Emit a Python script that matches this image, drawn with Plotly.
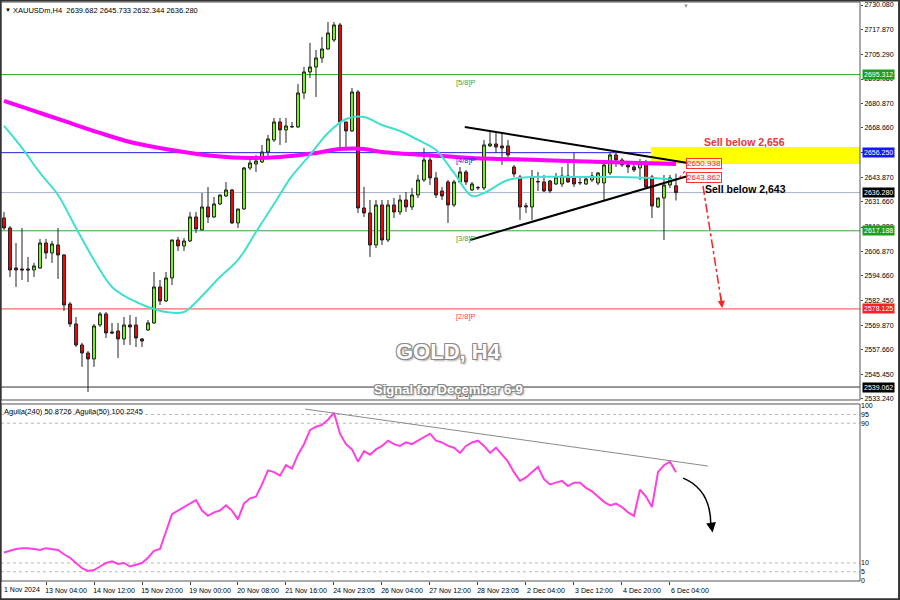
import plotly.graph_objects as go

# ---------------- data (XAUUSDm, H4) ----------------
open_ = [2623.6, 2618.6, 2598.6, 2598.1, 2598.1, 2597.6, 2598.6, 2611.1, 2606.1, 2610.1,
         2605.1, 2580.6, 2570.6, 2560.1, 2556.1, 2553.1, 2570.1, 2575.6, 2566.6, 2567.1,
         2563.1, 2570.1, 2570.1, 2563.1, 2567.6, 2571.1, 2589.1, 2582.1, 2593.6, 2612.6,
         2609.6, 2612.1, 2624.1, 2617.6, 2629.1, 2624.1, 2630.6, 2634.6, 2637.6, 2621.1,
         2628.1, 2648.6, 2650.6, 2651.6, 2656.6, 2662.6, 2671.6, 2667.6, 2669.1, 2669.1,
         2686.1, 2696.6, 2699.1, 2703.6, 2708.1, 2712.6, 2720.1, 2671.6, 2667.1, 2686.6,
         2628.6, 2626.1, 2610.1, 2630.1, 2612.6, 2630.1, 2626.6, 2632.6, 2629.1, 2635.1,
         2642.6, 2652.6, 2643.6, 2637.1, 2641.6, 2630.1, 2641.6, 2646.6, 2637.6, 2638.6,
         2638.6, 2659.6, 2660.6, 2659.6, 2659.6, 2649.1, 2644.1, 2629.1, 2629.1, 2641.6,
         2641.6, 2642.1, 2640.6, 2640.6, 2644.6, 2643.6, 2641.1, 2640.6, 2642.6, 2641.1,
         2641.1, 2646.1, 2655.1, 2652.6, 2650.1, 2649.1, 2648.6, 2651.6, 2644.1, 2629.1,
         2633.6, 2640.1, 2639.682]
high = [2626.6, 2619.6, 2611.1, 2618.6, 2604.1, 2601.1, 2613.1, 2613.1, 2612.1, 2618.6,
        2605.6, 2581.6, 2574.1, 2561.1, 2557.1, 2570.6, 2576.6, 2576.6, 2571.1, 2571.1,
        2574.1, 2575.1, 2574.1, 2563.6, 2572.6, 2596.6, 2592.6, 2596.6, 2612.6, 2614.1,
        2613.6, 2626.6, 2626.6, 2636.1, 2639.1, 2634.1, 2635.1, 2641.6, 2638.1, 2628.1,
        2649.1, 2653.6, 2655.1, 2660.1, 2665.1, 2673.6, 2673.6, 2673.6, 2671.6, 2690.6,
        2699.1, 2711.1, 2707.6, 2714.1, 2721.6, 2721.6, 2721.1, 2671.6, 2688.6, 2687.6,
        2639.1, 2632.6, 2632.6, 2632.6, 2632.6, 2633.6, 2635.1, 2636.6, 2638.6, 2645.1,
        2658.6, 2655.1, 2646.6, 2639.1, 2642.6, 2642.6, 2649.1, 2647.6, 2641.6, 2639.6,
        2662.6, 2666.6, 2666.1, 2666.1, 2662.6, 2650.1, 2645.1, 2631.1, 2647.6, 2646.6,
        2645.1, 2642.6, 2646.1, 2649.1, 2651.1, 2656.1, 2644.1, 2644.6, 2646.6, 2646.6,
        2651.6, 2656.1, 2656.1, 2653.6, 2651.6, 2651.6, 2653.1, 2652.6, 2645.1, 2633.6,
        2645.1, 2645.1, 2645.733]
low = [2617.6, 2594.1, 2589.1, 2592.6, 2591.6, 2594.1, 2598.1, 2603.1, 2601.1, 2593.1,
       2577.1, 2569.1, 2559.1, 2549.1, 2536.6, 2549.1, 2569.1, 2563.6, 2565.6, 2553.6,
       2560.1, 2560.1, 2559.1, 2559.1, 2567.1, 2570.6, 2580.1, 2581.6, 2590.1, 2607.1,
       2607.1, 2611.6, 2616.1, 2617.6, 2621.1, 2623.6, 2630.1, 2634.1, 2620.6, 2618.6,
       2627.6, 2647.6, 2646.6, 2651.1, 2654.1, 2661.6, 2660.1, 2661.1, 2668.6, 2668.6,
       2683.1, 2693.6, 2684.1, 2701.1, 2707.6, 2711.6, 2658.6, 2658.6, 2666.6, 2626.1,
       2624.1, 2604.1, 2608.6, 2610.1, 2611.6, 2623.6, 2625.1, 2626.6, 2627.6, 2633.6,
       2641.6, 2640.1, 2633.6, 2632.6, 2621.1, 2629.1, 2641.1, 2640.1, 2637.1, 2637.6,
       2637.6, 2659.1, 2656.1, 2650.1, 2654.1, 2644.1, 2622.6, 2626.1, 2622.6, 2637.1,
       2636.6, 2636.1, 2640.1, 2639.1, 2641.1, 2639.1, 2640.1, 2640.1, 2641.6, 2640.1,
       2632.6, 2645.1, 2649.1, 2649.1, 2646.1, 2646.6, 2642.6, 2638.6, 2623.6, 2628.6,
       2612.6, 2638.6, 2632.344]
close = [2618.6, 2597.6, 2597.6, 2597.6, 2597.6, 2599.6, 2611.1, 2606.1, 2610.6, 2605.1,
         2580.1, 2570.6, 2560.1, 2556.1, 2553.1, 2569.6, 2575.6, 2566.1, 2566.1, 2563.1,
         2570.1, 2569.1, 2563.6, 2562.1, 2571.1, 2589.1, 2582.1, 2593.6, 2612.6, 2609.6,
         2612.1, 2624.1, 2618.1, 2629.1, 2624.1, 2630.6, 2635.1, 2637.6, 2621.1, 2628.1,
         2648.6, 2651.1, 2652.1, 2656.6, 2663.1, 2671.6, 2667.6, 2669.6, 2669.3, 2686.1,
         2696.6, 2699.1, 2703.6, 2708.1, 2716.1, 2720.1, 2671.6, 2667.1, 2686.6, 2628.6,
         2626.1, 2610.1, 2630.1, 2612.6, 2630.1, 2626.6, 2632.6, 2629.1, 2635.1, 2642.6,
         2652.6, 2643.6, 2635.1, 2634.6, 2630.1, 2641.6, 2646.6, 2641.6, 2640.6, 2638.8,
         2660.1, 2660.6, 2659.1, 2658.6, 2655.1, 2645.6, 2629.1, 2629.6, 2644.1, 2641.8,
         2637.1, 2637.1, 2644.1, 2644.6, 2641.6, 2640.6, 2641.3, 2643.1, 2644.6, 2646.1,
         2650.1, 2655.1, 2652.6, 2650.1, 2649.1, 2647.6, 2651.6, 2639.1, 2629.6, 2633.6,
         2640.1, 2643.6, 2636.280]
bars = list(range(len(close)))

# moving averages (bar index, price)
ma_fast_idx = [0, 3, 6, 9, 12, 15, 18, 21, 24, 27, 30, 33, 36, 39, 42, 45, 48, 51, 54, 57,
               60, 63, 66, 69, 72, 75, 78, 80, 84, 88, 95, 102, 108, 112]
ma_fast = [2669.6, 2658.6, 2646.1, 2635.1, 2618.6, 2602.6, 2589.1, 2583.1, 2579.1, 2576.6,
           2576.6, 2584.6, 2594.1, 2602.6, 2616.6, 2630.6, 2644.6, 2655.1, 2666.1, 2673.1,
           2674.1, 2670.1, 2667.1, 2662.6, 2657.6, 2646.1, 2634.6, 2636.1, 2642.6, 2644.1,
           2644.1, 2644.1, 2643.6, 2642.6]
ma_slow_idx = [0, 5, 10, 16, 21, 25, 30, 35, 41, 46, 52, 56, 60, 63, 73, 78, 89, 100, 112]
ma_slow = [2682.1, 2677.1, 2672.1, 2666.1, 2661.6, 2659.1, 2656.6, 2654.6, 2653.6, 2654.1,
           2656.1, 2658.1, 2658.1, 2656.6, 2654.6, 2653.6, 2652.6, 2651.6, 2650.6]

# oscillator (lower panel)
aguila = [16, 17, 18, 18.5, 18.5, 18, 17.5, 18.5, 18, 17.5,
          15, 13, 10, 7, 5.5, 6, 8, 10, 11, 9.5,
          10, 8, 9, 10, 13, 17, 18, 28, 38, 40,
          42, 44, 46, 40, 37, 39, 40, 43, 40, 35,
          44, 47, 48, 55, 63, 62, 60, 66, 64, 72,
          78, 86, 88, 89, 92, 96, 84, 78, 75, 68,
          74, 72, 75, 77, 80, 78, 77, 79, 78, 80,
          82, 84, 80, 79, 77, 76, 73, 77, 79, 80,
          77, 73, 76, 72, 68, 62, 57, 59, 62, 65,
          58, 55, 56, 57, 54, 56, 56, 53, 51, 48,
          45, 43, 44, 42, 39, 37, 52, 48, 42, 62,
          66, 68, 62]

# murrey levels
levels = [2695.312, 2656.250, 2617.188, 2578.125, 2539.062]
level_names = ["[5/8]P", "[4/8]P", "[3/8]P", "[2/8]P", "[1/8]P"]
level_colors = ["#3aa83a", "#2020e0", "#3aa83a", "#ff4040", "#303030"]
level_box = ["#1e9e1e", "#1515ff", "#1e9e1e", "#ff2020", "#000000"]
top_level = (2734.375, "[6/8]P")
last_price = 2636.280

price_ticks = [2730.080, 2717.870, 2705.290, 2693.080, 2680.870, 2668.660, 2656.450, 2643.870,
               2631.660, 2619.080, 2606.870, 2594.660, 2582.450, 2569.870, 2557.660, 2545.450, 2533.240]
osc_ticks = [100, 95, 90, 10, 5, 0]
time_tick_idx = [7, 15, 23, 31, 39, 47, 55, 63, 71, 79, 87, 95, 103, 111]
time_tick_txt = ["13 Nov 04:00", "14 Nov 12:00", "15 Nov 20:00", "19 Nov 00:00", "20 Nov 08:00",
                 "21 Nov 16:00", "24 Nov 23:05", "26 Nov 04:00", "27 Nov 12:00", "28 Nov 23:05",
                 "2 Dec 04:00", "3 Dec 12:00", "4 Dec 20:00", "6 Dec 04:00"]

# drawings
upper_tl = ([76.8, 114.0], [2669.1, 2651.1])
lower_tl = ([77.7, 114.0], [2612.6, 2644.6])
osc_tl = ([50.2, 117.3], [98.1, 65.5])
zone = (107.8, 2650.6, 2659.1)
tl_labels = [(2650.938, "2650.938"), (2643.862, "2643.862")]

FONT = "Liberation Sans"
XR = [-0.5, 142.67]

fig = go.Figure()
fig.add_trace(go.Candlestick(
    x=bars, open=open_, high=high, low=low, close=close,
    increasing=dict(line=dict(color="#222222", width=1), fillcolor="#7cfc00"),
    decreasing=dict(line=dict(color="#222222", width=1), fillcolor="#ff0000"),
    whiskerwidth=0, xaxis="x", yaxis="y", showlegend=False, hoverinfo="skip"))
fig.add_trace(go.Scatter(x=ma_slow_idx, y=ma_slow, mode="lines", line=dict(color="#ff00ff", width=4, shape="spline"),
                         xaxis="x", yaxis="y", showlegend=False, hoverinfo="skip"))
fig.add_trace(go.Scatter(x=ma_fast_idx, y=ma_fast, mode="lines", line=dict(color="#40e0d0", width=2, shape="spline"),
                         xaxis="x", yaxis="y", showlegend=False, hoverinfo="skip"))
fig.add_trace(go.Scatter(x=bars, y=aguila, mode="lines", line=dict(color="#ff40e0", width=2),
                         xaxis="x", yaxis="y2", showlegend=False, hoverinfo="skip"))

shapes = []
annotations = []
# yellow zone
shapes.append(dict(type="rect", xref="x", yref="y", x0=zone[0], x1=XR[1], y0=zone[1], y1=zone[2],
                   fillcolor="#ffff00", line=dict(width=0), layer="below"))
# current price line
shapes.append(dict(type="line", xref="x domain", yref="y", x0=0, x1=1, y0=last_price, y1=last_price,
                   line=dict(color="#a8b0c8", width=1), layer="below"))
for lv, nm, col, bc in zip(levels, level_names, level_colors, level_box):
    shapes.append(dict(type="line", xref="x domain", yref="y", x0=0, x1=1, y0=lv, y1=lv,
                       line=dict(color=col, width=1), layer="below"))
    annotations.append(dict(x=75.0, y=lv, xref="x", yref="y", text=nm, showarrow=False, xanchor="left",
                            yanchor="top", yshift=-1, font=dict(family=FONT, size=7.5, color=col)))
    annotations.append(dict(x=1.002, y=lv, xref="paper", yref="y", text=f"{lv:.3f}", showarrow=False,
                            xanchor="left", bgcolor=bc, borderpad=1, font=dict(family=FONT, size=7, color="white")))
annotations.append(dict(x=75.0, y=top_level[0], xref="x", yref="y", text=top_level[1], showarrow=False,
                        xanchor="left", yanchor="top", yshift=-1, font=dict(family=FONT, size=7.5, color="#3aa83a")))
annotations.append(dict(x=1.002, y=last_price, xref="paper", yref="y", text=f"{last_price:.3f}", showarrow=False,
                        xanchor="left", bgcolor="black", borderpad=1, font=dict(family=FONT, size=7, color="white")))
annotations.append(dict(x=113.7, y=1.0, xref="x", yref="paper", yshift=1, text="▼", showarrow=False,
                        yanchor="top", font=dict(family=FONT, size=6, color="#999999")))

# trendlines
for tl in (upper_tl, lower_tl):
    shapes.append(dict(type="line", xref="x", yref="y", x0=tl[0][0], x1=tl[0][1], y0=tl[1][0], y1=tl[1][1],
                       line=dict(color="black", width=2)))
shapes.append(dict(type="line", xref="x", yref="y2", x0=osc_tl[0][0], x1=osc_tl[0][1], y0=osc_tl[1][0],
                   y1=osc_tl[1][1], line=dict(color="#8a8a8a", width=1)))
for v, t in tl_labels:
    annotations.append(dict(x=113.6, y=v, xref="x", yref="y", text=t, showarrow=False, xanchor="left",
                            bgcolor="rgba(255,255,255,0.6)", bordercolor="#ff3030", borderwidth=1, borderpad=0,
                            font=dict(family=FONT, size=8, color="#ff2020")))
# red dashed projection
shapes.append(dict(type="line", xref="x", yref="y", x0=116.5, y0=2639.6, x1=119.6, y1=2581.0,
                   line=dict(color="#ff2020", width=1.5, dash="dashdot")))
shapes.append(dict(type="line", xref="x", yref="y", x0=113.5, y0=2647.0, x1=112.5, y1=2643.5,
                   line=dict(color="#ff2020", width=1.2, dash="dot")))
annotations.append(dict(x=119.7, y=2578.6, ax=119.45, ay=2585.0, xref="x", yref="y", axref="x", ayref="y",
                        showarrow=True, arrowhead=2, arrowsize=1.2, arrowwidth=1.2, arrowcolor="#ff2020", text=""))
# curved arrow in oscillator
shapes.append(dict(type="path", xref="x", yref="y2", path="M 113.2,58.6 Q 117.8,52 117.8,32",
                   line=dict(color="black", width=1.5)))
annotations.append(dict(x=118.1, y=27.5, ax=117.8, ay=34.0, xref="x", yref="y2", axref="x", ayref="y2",
                        showarrow=True, arrowhead=2, arrowsize=1.3, arrowwidth=1.5, arrowcolor="black", text=""))

# texts
annotations.append(dict(x=116.3, y=2661.5, xref="x", yref="y", text="<b>Sell below 2,656</b>", showarrow=False,
                        xanchor="left", font=dict(family=FONT, size=10.5, color="#e8343c")))
annotations.append(dict(x=116.5, y=2638.3, xref="x", yref="y", text="<b>Sell below 2,643</b>", showarrow=False,
                        xanchor="left", font=dict(family=FONT, size=10.5, color="black")))
outline = "-1px -1px 0 #8a8a8a, 1px -1px 0 #8a8a8a, -1px 1px 0 #8a8a8a, 1px 1px 0 #8a8a8a, 2px 2px 2px #b0b0b0"
annotations.append(dict(x=0.5205, y=2556.9, xref="paper", yref="y", text="<b>GOLD, H4</b>", showarrow=False,
                        font=dict(family=FONT, size=22, color="white", shadow=outline)))
annotations.append(dict(x=0.5205, y=2538.0, xref="paper", yref="y", text="<b>Signal for December 6-9</b>",
                        showarrow=False, font=dict(family=FONT, size=13, color="white", shadow=outline)))
annotations.append(dict(x=0.0, y=1.0, xref="paper", yref="paper", xshift=10, yshift=-2,
                        text="XAUUSDm,H4  2639.682 2645.733 2632.344 2636.280", showarrow=False,
                        xanchor="left", yanchor="top", font=dict(family=FONT, size=7.5, color="black")))
annotations.append(dict(x=0.0, y=1.0, xref="paper", yref="paper", xshift=2, yshift=-3, text="▼",
                        showarrow=False, xanchor="left", yanchor="top", font=dict(family=FONT, size=6, color="black")))
annotations.append(dict(x=0.0, y=0.3057, xref="paper", yref="paper", xshift=1, yshift=-1,
                        text="Aguila(240) 50.8726  Aguila(50) 100.2245", showarrow=False,
                        xanchor="left", yanchor="top", font=dict(family=FONT, size=7.5, color="black")))
annotations.append(dict(x=0.0, y=0.0, xref="paper", yref="paper", xshift=1, yshift=-3,
                        text="1 Nov 2024", showarrow=False, xanchor="left", yanchor="top",
                        font=dict(family=FONT, size=7, color="black")))

# panel frames
shapes.append(dict(type="rect", xref="paper", yref="paper", x0=0, x1=1, y0=0.3126, y1=1,
                   line=dict(color="#555555", width=1)))
shapes.append(dict(type="rect", xref="paper", yref="paper", x0=0, x1=1, y0=0, y1=0.3057,
                   line=dict(color="#555555", width=1)))
shapes.append(dict(type="rect", xref="paper", yref="paper", x0=-0.0006, x1=1.0455, y0=-0.0315, y1=1.0026,
                   line=dict(color="#333333", width=2)))
for v in (95, 90, 10, 5):
    shapes.append(dict(type="line", xref="x domain", yref="y2", x0=0, x1=1, y0=v, y1=v,
                       line=dict(color="#b8b8b8", width=1, dash="dot"), layer="below"))

fig.update_layout(
    width=900, height=600,
    margin=dict(l=1, r=40, t=2, b=19),
    paper_bgcolor="white", plot_bgcolor="white",
    showlegend=False,
    xaxis=dict(domain=[0, 1], range=XR, anchor="y2", rangeslider=dict(visible=False),
               tickmode="array", tickvals=time_tick_idx, ticktext=time_tick_txt,
               ticks="outside", ticklen=3, tickcolor="#444", ticklabelshift=20,
               tickfont=dict(family=FONT, size=7, color="black"), showgrid=False, zeroline=False,
               showline=False, automargin=False),
    yaxis=dict(domain=[0.3126, 1], range=[2532.58, 2731.58], side="right", anchor="x",
               tickmode="array", tickvals=price_ticks, ticktext=[f"{v:.3f}" for v in price_ticks],
               ticks="outside", ticklen=2, tickcolor="#444",
               tickfont=dict(family=FONT, size=7, color="black"), showgrid=False, zeroline=False,
               automargin=False),
    yaxis2=dict(domain=[0, 0.3057], range=[-0.3, 101], side="right", anchor="x",
                tickmode="array", tickvals=osc_ticks, ticktext=[str(v) for v in osc_ticks],
                ticks="", tickfont=dict(family=FONT, size=7, color="black"),
                showgrid=False, zeroline=False, automargin=False),
    shapes=shapes, annotations=annotations,
)

fig.write_html("out.html", config={"displayModeBar": False},
               post_script="document.body.style.margin='0';document.body.style.overflow='hidden';")
